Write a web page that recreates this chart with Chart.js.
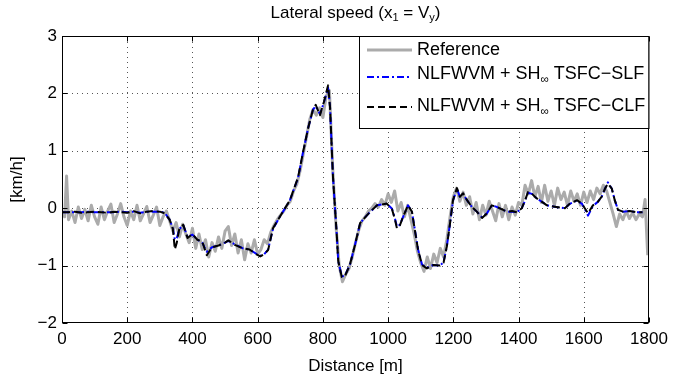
<!DOCTYPE html>
<html>
<head>
<meta charset="utf-8">
<script src="https://cdn.jsdelivr.net/npm/chart.js@4.4.0/dist/chart.umd.min.js"></script>
<style>
  html, body { margin: 0; padding: 0; background: #fff; }
</style>
</head>
<body>
<canvas id="lateralChart" width="686" height="380"></canvas>
<script>
// x ticks / y ticks
const xTicks = [0, 200, 400, 600, 800, 1000, 1200, 1400, 1600, 1800];
const yTicks = [-2, -1, 0, 1, 2, 3];

// reference lateral speed [km/h] vs distance [m]
const refDist = [
  0, 8, 14, 20, 30, 40, 50, 60, 70, 80, 90,
  100, 110, 120, 130, 140, 150, 160, 170, 180, 190,
  200, 210, 220, 230, 240, 250, 260, 270, 280, 290,
  300, 310, 320, 330, 340, 350, 360, 370, 380, 390,
  400, 410, 420, 430, 440, 450, 460, 470, 480, 490,
  500, 510, 520, 530, 540, 550, 560, 570, 580, 590,
  600, 610, 620, 630, 640, 650, 660, 670, 680, 690,
  700, 710, 720, 730, 740, 750, 760, 770, 780, 790,
  800, 810, 820, 830, 840, 850, 860, 870, 880, 890,
  900, 910, 920, 930, 940, 950, 960, 970, 980, 990,
  1000, 1010, 1020, 1030, 1040, 1050, 1060, 1070, 1080, 1090,
  1100, 1110, 1120, 1130, 1140, 1150, 1160, 1170, 1180, 1190,
  1200, 1210, 1220, 1230, 1240, 1250, 1260, 1270, 1280, 1290,
  1300, 1310, 1320, 1330, 1340, 1350, 1360, 1370, 1380, 1390,
  1400, 1410, 1420, 1430, 1440, 1450, 1460, 1470, 1480, 1490,
  1500, 1510, 1520, 1530, 1540, 1550, 1560, 1570, 1580, 1590,
  1600, 1610, 1620, 1630, 1640, 1650, 1660, 1670, 1680, 1690,
  1700, 1710, 1720, 1730, 1740, 1750, 1760, 1770, 1780, 1788, 1796
];
const refSpeed = [
  -0.05, -0.15, 0.56, -0.2, -0.05, -0.25, 0.02, -0.18, -0.02, -0.22, 0.05,
  -0.15, -0.28, 0.02, -0.2, -0.05, 0.07, -0.25, -0.1, 0.08, -0.15,
  -0.3, -0.05, -0.2, 0.05, -0.22, -0.1, 0.03, -0.25, -0.12, 0.02,
  -0.3, -0.15, -0.05, -0.22, -0.4, -0.25, -0.5, -0.28, -0.45, -0.6,
  -0.35, -0.7, -0.45, -0.72, -0.55, -0.85, -0.6, -0.75, -0.5, -0.7,
  -0.4, -0.32, -0.65, -0.45, -0.78, -0.55, -0.9, -0.62, -0.78, -0.55,
  -0.8, -0.72, -0.55, -0.62, -0.42, -0.3, -0.2, -0.12, -0.05, 0.05,
  0.12, 0.3, 0.42, 0.65, 0.95, 1.25, 1.55, 1.72, 1.62, 1.75,
  1.58, 1.95, 2.05, 0.7, -0.3, -1.0, -1.28, -1.15, -1.05, -0.85,
  -0.6, -0.38, -0.22, -0.15, -0.05, 0.0, 0.08, 0.02, 0.15, 0.05,
  0.25, 0.1, 0.3, -0.05, 0.1, -0.15, 0.05, -0.2, -0.45, -0.75,
  -0.95, -1.1, -0.85, -1.05, -0.8, -0.95, -0.7, -0.85, -0.55, -0.15,
  0.2, 0.35, 0.12, 0.28, 0.05, 0.2, -0.1, 0.1, -0.2, 0.05,
  -0.12, 0.12, -0.05, -0.22, 0.08, -0.15, 0.05, -0.2, 0.02, -0.12,
  0.1, 0.05, 0.4, 0.25, 0.48, 0.2, 0.38, 0.1, 0.4, 0.12,
  0.3, 0.05, 0.35, 0.15, 0.28, 0.05, 0.3, 0.12, 0.25, 0.05,
  0.28, 0.1, 0.3, 0.15, 0.35, 0.25, 0.4, 0.3, 0.1, -0.1,
  -0.32, -0.1, -0.2, -0.05, -0.18, -0.08, -0.2, -0.1, -0.15, 0.15, -0.82
];

// controller outputs (SLF = blue dash-dot, CLF = black dashed)
const ctrlDist = [
  0, 20, 40, 60, 80, 100, 120, 140, 160, 180, 200, 220, 240, 260, 280, 300, 315, 330,
  340, 346, 352, 360, 372, 385, 400, 415, 430, 444, 460, 480, 500, 510, 530, 555, 575,
  595, 608, 620, 632, 647, 668, 699, 724, 740, 755, 770, 778, 791, 803, 816, 822, 827,
  831, 837, 843, 847, 858, 868, 883, 898, 914, 923, 944, 966, 996, 1012, 1021, 1027,
  1036, 1046, 1061, 1073, 1082, 1092, 1104, 1119, 1138, 1159, 1170, 1180, 1190, 1199,
  1211, 1220, 1230, 1242, 1257, 1272, 1288, 1303, 1318, 1334, 1349, 1364, 1380, 1395,
  1410, 1420, 1429, 1441, 1456, 1472, 1487, 1506, 1527, 1542, 1558, 1579, 1594, 1603,
  1613, 1628, 1643, 1655, 1665, 1674, 1686, 1695, 1705, 1720, 1741, 1763, 1780
];
const clfSpeed = [
  -0.07, -0.07, -0.06, -0.08, -0.07, -0.06, -0.07, -0.08, -0.06, -0.07, -0.08, -0.05, -0.09, -0.06, -0.05, -0.06, -0.09, -0.2,
  -0.36, -0.72, -0.6, -0.35, -0.29, -0.52, -0.45, -0.55, -0.58, -0.82, -0.68, -0.65, -0.6, -0.56, -0.64, -0.7, -0.72,
  -0.8, -0.84, -0.8, -0.73, -0.35, -0.15, 0.14, 0.54, 1.0, 1.4, 1.73, 1.8, 1.62, 1.85, 2.14, 1.75, 1.07,
  0.54, 0.02, -0.5, -0.92, -1.2, -1.18, -0.98, -0.65, -0.26, -0.2, -0.07, 0.05, 0.08, -0.02, -0.2, -0.35,
  -0.3, -0.15, 0.05, -0.06, -0.38, -0.73, -0.99, -1.05, -0.99, -1.0, -0.95, -0.67, -0.26, 0.14,
  0.35, 0.2, 0.26, 0.14, 0.02, -0.06, -0.17, -0.09, 0.05, 0.02, -0.02, -0.06, -0.05, -0.07,
  0, 0.14, 0.28, 0.25, 0.17, 0.11, 0.05, 0.03, 0.01, 0, 0.08, 0.14, 0.08, 0,
  -0.09, 0.05, 0.11, 0.2, 0.34, 0.43, 0.34, 0.14, -0.03, -0.06, -0.05, -0.07, -0.07
];
const slfSpeed = [
  -0.07, -0.07, -0.07, -0.07, -0.06, -0.07, -0.07, -0.07, -0.07, -0.06, -0.07, -0.06, -0.08, -0.06, -0.06, -0.06, -0.08, -0.2,
  -0.35, -0.55, -0.52, -0.36, -0.3, -0.5, -0.46, -0.55, -0.6, -0.76, -0.68, -0.65, -0.6, -0.57, -0.63, -0.7, -0.72,
  -0.79, -0.83, -0.8, -0.72, -0.36, -0.15, 0.14, 0.53, 1.0, 1.4, 1.72, 1.78, 1.64, 1.84, 2.1, 1.76, 1.07,
  0.54, 0.02, -0.5, -0.92, -1.19, -1.17, -0.98, -0.65, -0.27, -0.2, -0.07, 0.05, 0.08, -0.01, -0.18, -0.32,
  -0.29, -0.15, 0.05, -0.06, -0.37, -0.72, -0.98, -1.04, -0.99, -1.0, -0.94, -0.67, -0.26, 0.13,
  0.34, 0.2, 0.25, 0.14, 0.02, -0.06, -0.16, -0.09, 0.05, 0.02, -0.02, -0.06, -0.06, -0.07,
  0, 0.13, 0.27, 0.25, 0.17, 0.11, 0.05, 0.03, 0.01, 0, 0.08, 0.13, 0.08, -0.01,
  -0.13, 0.04, 0.11, 0.2, 0.34, 0.45, 0.34, 0.14, -0.03, -0.06, -0.05, -0.07, -0.07
];

const FONT = '"Liberation Sans", Arial, Helvetica, sans-serif';
const toPoints = (xs, ys) => xs.map((x, i) => ({ x: x, y: ys[i] }));
const fmtMinus = v => String(v).replace('-', '\u2212');

// dotted MATLAB style grid, drawn under the lines
const gridPlugin = {
  id: 'matlabGrid',
  beforeDatasetsDraw(chart) {
    const { ctx, chartArea: a, scales: { x, y } } = chart;
    ctx.save();
    ctx.strokeStyle = '#555';
    ctx.lineWidth = 1;
    ctx.setLineDash([1, 4]);
    xTicks.slice(1, -1).forEach(v => {
      const px = Math.round(x.getPixelForValue(v)) + 0.5;
      ctx.beginPath(); ctx.moveTo(px, a.bottom); ctx.lineTo(px, a.top); ctx.stroke();
    });
    yTicks.slice(1, -1).forEach(v => {
      const py = Math.round(y.getPixelForValue(v)) + 0.5;
      ctx.beginPath(); ctx.moveTo(a.left, py); ctx.lineTo(a.right, py); ctx.stroke();
    });
    ctx.restore();
  }
};

// box round the axes with inward ticks
const framePlugin = {
  id: 'matlabFrame',
  afterDatasetsDraw(chart) {
    const { ctx, chartArea: a, scales: { x, y } } = chart;
    const L = Math.round(a.left) + 0.5, R = Math.round(a.right) - 0.5;
    const T = Math.round(a.top) + 0.5, B = Math.round(a.bottom) - 0.5;
    ctx.save();
    ctx.strokeStyle = '#000';
    ctx.lineWidth = 1;
    ctx.strokeRect(L, T, R - L, B - T);
    ctx.beginPath();
    xTicks.forEach(v => {
      const px = Math.round(x.getPixelForValue(v)) + 0.5;
      ctx.moveTo(px, B); ctx.lineTo(px, B - 5);
      ctx.moveTo(px, T); ctx.lineTo(px, T + 5);
    });
    yTicks.forEach(v => {
      const py = Math.round(y.getPixelForValue(v)) + 0.5;
      ctx.moveTo(L, py); ctx.lineTo(L + 5, py);
      ctx.moveTo(R, py); ctx.lineTo(R - 5, py);
    });
    ctx.stroke();
    ctx.restore();
  }
};

// draws text pieces with subscripts, returns width
function drawRich(ctx, parts, x, y, size, doDraw) {
  let cx = x;
  parts.forEach(p => {
    const s = p.sub ? size * 0.65 : size;
    ctx.font = s + 'px ' + FONT;
    const dy = p.sub ? size * 0.32 : 0;
    if (doDraw) ctx.fillText(p.t, cx, y + dy);
    cx += ctx.measureText(p.t).width;
  });
  return cx - x;
}

const titleLegendPlugin = {
  id: 'titleLegend',
  afterDraw(chart) {
    const { ctx, chartArea: a } = chart;
    ctx.save();
    ctx.fillStyle = '#000';
    ctx.textBaseline = 'middle';
    ctx.textAlign = 'left';

    // title
    const title = [{ t: 'Lateral speed (x' }, { t: '1', sub: true }, { t: ' = V' }, { t: 'y', sub: true }, { t: ')' }];
    const tw = drawRich(ctx, title, 0, 0, 17, false);
    drawRich(ctx, title, (a.left + a.right) / 2 - tw / 2, 13, 17, true);

    // legend box
    const bx = 359, by = Math.round(a.top) + 0.5, bw = Math.round(a.right) - 0.5 - bx, bh = 92;
    ctx.fillStyle = '#fff';
    ctx.fillRect(bx, by, bw, bh);
    ctx.strokeStyle = '#000';
    ctx.lineWidth = 1;
    ctx.strokeRect(bx + 0.5, by, bw, bh);

    const items = [
      { color: '#ababab', width: 3, dash: [], ly: 50, ty: 50,
        text: [{ t: 'Reference' }] },
      { color: '#0000ff', width: 2, dash: [7, 3, 2, 3], ly: 77, ty: 74,
        text: [{ t: 'NLFWVM + SH' }, { t: '\u221E', sub: true }, { t: ' TSFC\u2212SLF' }] },
      { color: '#000', width: 2, dash: [7, 4], ly: 107, ty: 106,
        text: [{ t: 'NLFWVM + SH' }, { t: '\u221E', sub: true }, { t: ' TSFC\u2212CLF' }] }
    ];
    items.forEach(it => {
      ctx.strokeStyle = it.color;
      ctx.lineWidth = it.width;
      ctx.setLineDash(it.dash);
      ctx.beginPath(); ctx.moveTo(367, it.ly); ctx.lineTo(412, it.ly); ctx.stroke();
      ctx.fillStyle = '#000';
      drawRich(ctx, it.text, 417, it.ty, 18, true);
    });
    ctx.restore();
  }
};

const ctx = document.getElementById('lateralChart').getContext('2d');
const lateralChart = new Chart(ctx, {
  type: 'line',
  data: {
    datasets: [{
      label: 'NLFWVM + SH\u221E TSFC\u2212CLF',
      data: toPoints(ctrlDist, clfSpeed),
      borderColor: '#000000',
      borderWidth: 2,
      borderDash: [8, 4],
      order: 1
    }, {
      label: 'NLFWVM + SH\u221E TSFC\u2212SLF',
      data: toPoints(ctrlDist, slfSpeed),
      borderColor: '#0000ff',
      borderWidth: 2,
      borderDash: [7, 3, 2, 3],
      order: 2
    }, {
      label: 'Reference',
      data: toPoints(refDist, refSpeed),
      borderColor: '#ababab',
      borderWidth: 3,
      order: 3
    }]
  },
  options: {
    responsive: false,
    animation: false,
    devicePixelRatio: 1,
    parsing: false,
    elements: {
      point: { radius: 0 },
      line: { tension: 0, fill: false, borderJoinStyle: 'round', borderCapStyle: 'butt' }
    },
    layout: { padding: { top: 36, right: 37, left: 0, bottom: 0 } },
    plugins: {
      legend: { display: false },
      tooltip: { enabled: false },
      title: { display: false }
    },
    scales: {
      x: {
        type: 'linear',
        min: 0,
        max: 1800,
        afterFit: s => { s.height = 57; },
        afterBuildTicks: s => { s.ticks = xTicks.map(v => ({ value: v })); },
        grid: { display: false, drawTicks: false },
        border: { display: false },
        ticks: { color: '#000', padding: 6, maxRotation: 0, font: { family: FONT, size: 17 }, callback: v => String(v) },
        title: { display: true, text: 'Distance [m]', color: '#000', padding: { top: 0, bottom: 3 }, font: { family: FONT, size: 17 } }
      },
      y: {
        type: 'linear',
        min: -2,
        max: 3,
        afterFit: s => { s.width = 62; },
        afterBuildTicks: s => { s.ticks = yTicks.map(v => ({ value: v })); },
        grid: { display: false, drawTicks: false },
        border: { display: false },
        ticks: { color: '#000', padding: 5, font: { family: FONT, size: 17 }, callback: v => fmtMinus(v) },
        title: { display: true, text: '[km/h]', color: '#000', padding: { top: 7, bottom: 0 }, font: { family: FONT, size: 17 } }
      }
    }
  },
  plugins: [gridPlugin, framePlugin, titleLegendPlugin]
});
</script>
</body>
</html>
